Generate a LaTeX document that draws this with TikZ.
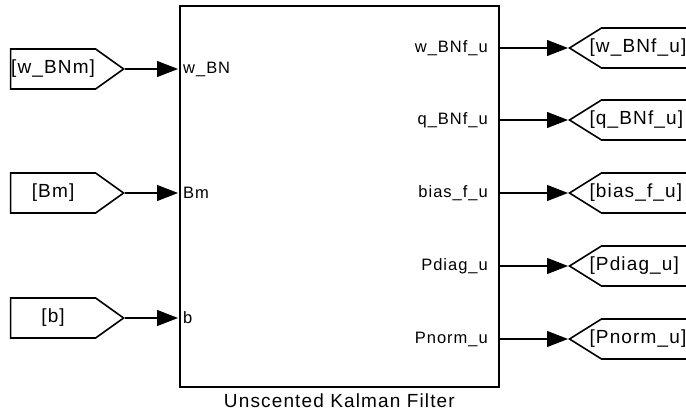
\documentclass[tikz,border=0pt]{standalone}
\usepackage{fontspec}
\setmainfont{Liberation Sans}[LetterSpace=6]
\usetikzlibrary{arrows.meta, positioning, shapes.symbols}

\tikzset{
  blk/.style={draw, line width=1.8pt, minimum width=319pt, minimum height=381pt, inner sep=0pt},
  tagin/.style={draw, line width=1.6pt, shape=signal, signal to=east, signal pointer angle=71,
    minimum height=40pt, text width=85pt, align=center, inner xsep=0pt, inner ysep=0pt},
  tagout/.style={draw, line width=1.6pt, shape=signal, signal to=west, signal pointer angle=64,
    minimum height=40pt, text width=110pt, align=left, inner xsep=-12pt, inner ysep=0pt},
  sig/.style={-{Triangle[length=21pt,width=16pt]}, line width=1.1pt},
  port/.style={inner sep=0pt, font=\fontsize{16.5}{19}\selectfont}
}

\begin{document}
\begin{tikzpicture}[x=1pt, y=-1pt, font=\fontsize{19}{22}\selectfont]
\useasboundingbox (0,0) rectangle (686,417);
\clip (0,0) rectangle (686,417);
% filter block
\node[blk, anchor=north west] (ukf) at (179,5) {};
\node[below=2pt of ukf] (ukflabel) {Unscented Kalman Filter};
% inputs (from tags)
\foreach \y/\tg/\lbl [count=\i] in {69/w\_BNm/w\_BN, 193/Bm/Bm, 318/b/b} {
  \node[tagin, anchor=east] (from\i) at (125,\y) {[\tg]};
  \coordinate (in\i) at (178,\y);
  \node[port, anchor=west] (inlbl\i) at (183,\y) {\lbl};
  \draw[sig] (from\i.east) -- (in\i);
}
% outputs (goto tags)
\foreach \y/\lbl [count=\i] in {48/w\_BNf\_u, 120/q\_BNf\_u, 193/bias\_f\_u, 266/Pdiag\_u, 339/Pnorm\_u} {
  \coordinate (out\i) at (499,\y);
  \node[port, anchor=east] (outlbl\i) at (488,\y) {\lbl};
  \node[tagout, anchor=west] (goto\i) at (568,\y) {[\lbl]};
  \draw[sig] (out\i) -- (goto\i.west);
}
\end{tikzpicture}
\end{document}
